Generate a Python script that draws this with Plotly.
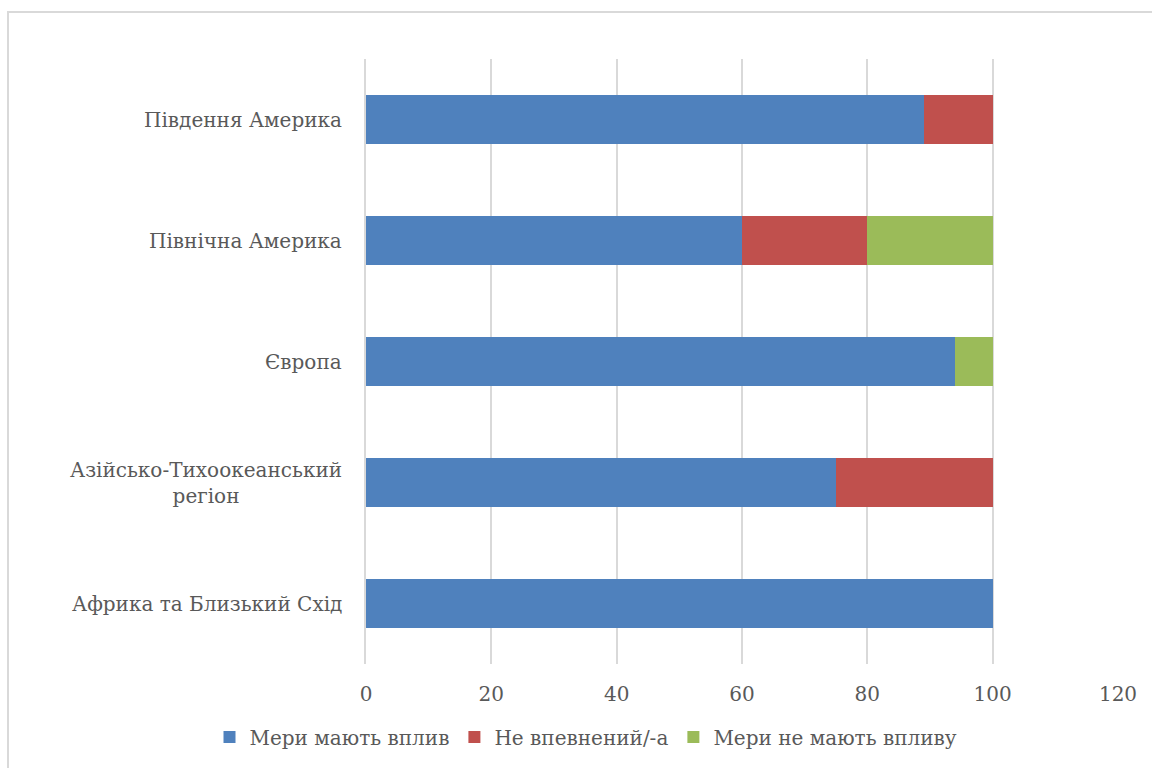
import plotly.graph_objects as go

# Regions (bottom to top) and share of respondents per answer, %
regions = [
    "Африка та Близький Схід",
    "Азійсько-Тихоокеанський<br>регіон",
    "Європа",
    "Північна Америка",
    "Південня Америка",
]
effective = [100, 75, 94, 60, 89]
unsure = [0, 25, 0, 20, 11]
not_effective = [0, 0, 6, 20, 0]

series_names = ["Мери мають вплив", "Не впевнений/-а", "Мери не мають впливу"]
x_ticks = [0, 20, 40, 60, 80, 100, 120]

colors = ["#4f81bd", "#c0504d", "#9bbb59"]
font_family = "DejaVu Serif, Liberation Serif, serif"
text_color = "#595959"
fsize = 20

W, H = 1152, 768
ml, mr, mt, mb = 366, 34, 59, 104

fig = go.Figure()
for name, vals, col in zip(series_names, [effective, unsure, not_effective], colors):
    fig.add_trace(go.Bar(
        y=regions, x=vals, name=name, orientation="h",
        marker=dict(color=col, line=dict(width=0)),
        width=0.4,
    ))

# category labels, centred line by line and right-aligned to the axis
for r in regions:
    fig.add_annotation(
        x=0, xref="paper", xshift=-22, y=r, yref="y",
        text=r, showarrow=False, xanchor="right", yanchor="middle",
        align="center", font=dict(family=font_family, size=fsize, color=text_color),
    )

pw, ph = W - ml - mr, H - mt - mb
# outer chart frame
fig.add_shape(
    type="rect", xref="paper", yref="paper",
    x0=(8 - ml) / pw, x1=(W + 20 - ml) / pw,
    y0=-(H + 20 - (H - mb)) / ph, y1=1 + (mt - 12) / ph,
    line=dict(color="#d9d9d9", width=2), fillcolor="rgba(0,0,0,0)", layer="below",
)

fig.update_layout(
    width=W, height=H,
    margin=dict(l=ml, r=mr, t=mt, b=mb),
    barmode="stack",
    paper_bgcolor="white", plot_bgcolor="white",
    font=dict(family=font_family, size=fsize, color=text_color),
    xaxis=dict(
        range=[0, 120], tickvals=x_ticks, showgrid=True, gridcolor="#d9d9d9",
        gridwidth=2, zeroline=False, showline=False,
        ticks="outside", ticklen=12, tickcolor="rgba(0,0,0,0)",
        tickfont=dict(family=font_family, size=fsize, color=text_color),
    ),
    yaxis=dict(
        categoryorder="array", categoryarray=regions,
        showticklabels=False, showgrid=False, zeroline=False,
        showline=True, linecolor="#d9d9d9", linewidth=2,
    ),
    bargap=0.6,
    legend=dict(
        orientation="h", traceorder="normal",
        x=(586 - ml) / pw, xanchor="center",
        y=-(737 - (H - mb)) / ph, yanchor="middle",
        font=dict(family=font_family, size=fsize, color=text_color),
    ),
    showlegend=True,
)

fig.write_html("out.html")
